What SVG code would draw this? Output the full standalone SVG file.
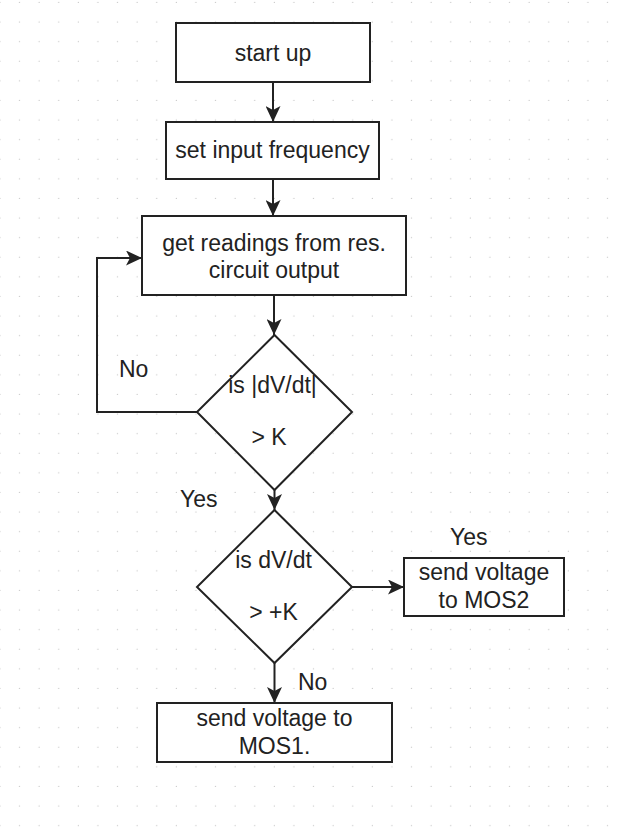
<svg xmlns="http://www.w3.org/2000/svg" width="621" height="840" viewBox="0 0 621 840">
  <style>
    .box { fill: #ffffff; stroke: #222222; stroke-width: 2; }
    .edge { fill: none; stroke: #222222; stroke-width: 2; }
    .t { font-family: "Liberation Sans", Arial, sans-serif; font-size: 23px; fill: #222222; text-anchor: middle; }
    .lbl { font-family: "Liberation Sans", Arial, sans-serif; font-size: 23px; fill: #222222; }
  </style>
  <defs>
    <pattern id="grid" x="0.5" y="3" width="19.6" height="19.6" patternUnits="userSpaceOnUse">
      <circle cx="19.6" cy="19.6" r="1.3" fill="#c8c8c8"/>
    </pattern>
    <marker id="arr" viewBox="0 0 16 15" refX="16" refY="7.5" markerWidth="16" markerHeight="15" orient="auto" markerUnits="userSpaceOnUse">
      <path d="M0,0 L16,7.5 L0,15 L4,7.5 Z" fill="#222222"/>
    </marker>
  </defs>
  <rect x="0" y="0" width="621" height="840" fill="#ffffff"/>
  <rect x="0" y="0" width="621" height="840" fill="url(#grid)"/>

  <g id="connectors">
    <path class="edge" d="M273,82 V122" marker-end="url(#arr)"/>
    <path class="edge" d="M273,179 V216" marker-end="url(#arr)"/>
    <path class="edge" d="M274,295 V335" marker-end="url(#arr)"/>
    <path class="edge" d="M197,412 H97 V258 H142" marker-end="url(#arr)"/>
    <path class="edge" d="M274.5,490 V510" marker-end="url(#arr)"/>
    <path class="edge" d="M352,587 H404" marker-end="url(#arr)"/>
    <path class="edge" d="M274.5,663 V703" marker-end="url(#arr)"/>
    <text class="lbl" x="119" y="377">No</text>
    <text class="lbl" x="180" y="507">Yes</text>
    <text class="lbl" x="450" y="545">Yes</text>
    <text class="lbl" x="298" y="690">No</text>
  </g>

  <g id="start">
    <rect class="box" x="176" y="23" width="194" height="59"/>
    <text class="t" x="273" y="61">start up</text>
  </g>
  <g id="setfreq">
    <rect class="box" x="166" y="122" width="213" height="57"/>
    <text class="t" x="272.5" y="158">set input frequency</text>
  </g>
  <g id="readings">
    <rect class="box" x="142" y="216" width="264" height="79"/>
    <text class="t" x="274" y="251">get readings from res.</text>
    <text class="t" x="274" y="278">circuit output</text>
  </g>
  <g id="decision1">
    <polygon class="box" points="274.5,335 352,412 274.5,490 197,412"/>
    <text class="t" x="272.5" y="393">is |dV/dt|</text>
    <text class="t" x="269" y="445">&gt; K</text>
  </g>
  <g id="decision2">
    <polygon class="box" points="274.5,510 352,587 274.5,663 197,587"/>
    <text class="t" x="273.5" y="568">is dV/dt</text>
    <text class="t" x="273.5" y="620">&gt; +K</text>
  </g>
  <g id="mos2">
    <rect class="box" x="404" y="558" width="160" height="58"/>
    <text class="t" x="484" y="580">send voltage</text>
    <text class="t" x="484" y="608">to MOS2</text>
  </g>
  <g id="mos1">
    <rect class="box" x="157" y="703" width="235" height="59"/>
    <text class="t" x="274.5" y="726">send voltage to</text>
    <text class="t" x="274.5" y="754">MOS1.</text>
  </g>
</svg>
